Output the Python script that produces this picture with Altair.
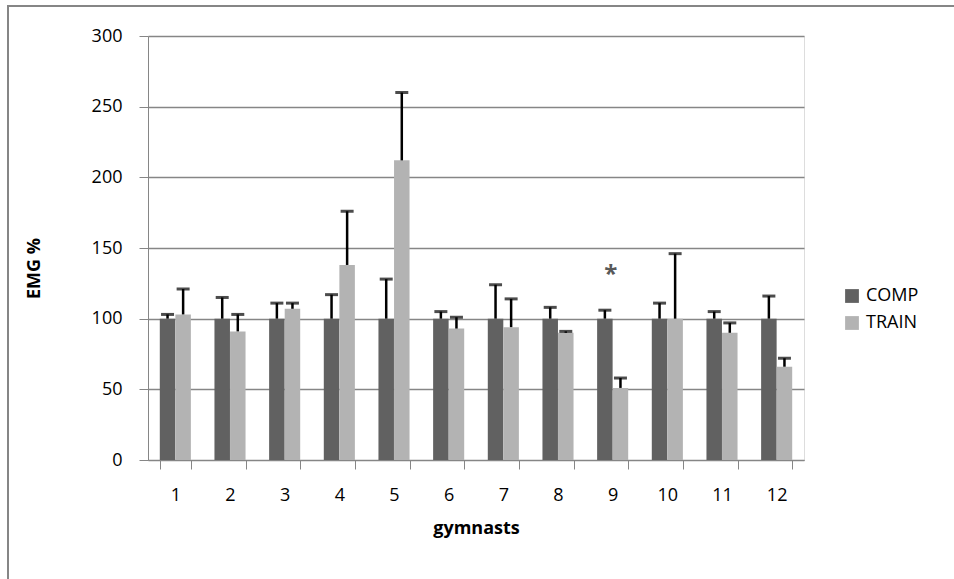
import altair as alt
import pandas as pd

# EMG activity per gymnast, competition vs training (mean and + SD)
gymnasts = [str(i) for i in range(1, 13)]
comp_mean = [100, 100, 100, 100, 100, 100, 100, 100, 100, 100, 100, 100]
comp_sd = [3, 15, 11, 17, 28, 5, 24, 8, 6, 11, 5, 16]
train_mean = [103, 91, 107, 138, 212, 93, 94, 90, 51, 100, 90, 66]
train_sd = [18, 12, 4, 38, 48, 8, 20, 1, 7, 46, 7, 6]
series = ["COMP", "TRAIN"]
colors = ["#616161", "#b3b3b3"]
significant = ["9"]

rows = []
for i, g in enumerate(gymnasts):
    rows.append({"g": g, "series": "COMP", "mean": comp_mean[i], "sd": comp_sd[i]})
    rows.append({"g": g, "series": "TRAIN", "mean": train_mean[i], "sd": train_sd[i]})
df = pd.DataFrame(rows)
df["upper"] = df["mean"] + df["sd"]

FONT = "Open Sans"
GRID = "#868686"

x_enc = alt.X(
    "g:O",
    sort=gymnasts,
    title="gymnasts",
    scale=alt.Scale(paddingInner=0.43, paddingOuter=0.215),
    axis=alt.Axis(
        labelAngle=0,
        tickBand="extent",
        tickSize=9,
        tickColor=GRID,
        domainColor=GRID,
        labelPadding=17,
        labelFontSize=18,
        labelColor="#000000",
        titleFontSize=18,
        titleFontWeight="bold",
        titlePadding=15,
        grid=False,
    ),
)
xoff = alt.XOffset("series:N", sort=series, scale=alt.Scale(paddingInner=0, paddingOuter=0))
y_scale = alt.Scale(domain=[0, 300])

base = alt.Chart(df)

bars = base.mark_bar(size=15.5).encode(
    x=x_enc,
    xOffset=xoff,
    y=alt.Y(
        "mean:Q",
        scale=y_scale,
        title="EMG %",
        axis=alt.Axis(
            values=[0, 50, 100, 150, 200, 250, 300],
            tickSize=9,
            tickColor=GRID,
            domainColor=GRID,
            gridColor=GRID,
            gridWidth=1.3,
            labelPadding=17,
            labelFontSize=18,
            labelColor="#000000",
            titleFontSize=18,
            titleFontWeight="bold",
            titlePadding=48,
            titleY=232,
        ),
    ),
    color=alt.Color(
        "series:N",
        sort=series,
        scale=alt.Scale(domain=series, range=colors),
        legend=alt.Legend(
            title=None,
            orient="none",
            legendX=695,
            legendY=251,
            symbolType="square",
            symbolSize=190,
            symbolStrokeWidth=0,
            labelFontSize=18,
            labelColor="#000000",
            rowPadding=9,
            labelOffset=5,
        ),
    ),
)

stems = base.mark_rule(color="#000000", strokeWidth=2.5).encode(
    x=alt.X("g:O", sort=gymnasts),
    xOffset=xoff,
    y=alt.Y("mean:Q", scale=y_scale),
    y2="upper:Q",
)

caps = base.mark_tick(color="#000000", thickness=3, size=13, orient="horizontal").encode(
    x=alt.X("g:O", sort=gymnasts),
    xOffset=xoff,
    y=alt.Y("upper:Q", scale=y_scale),
)

star = alt.Chart(pd.DataFrame({"g": significant, "y": [131]})).mark_text(
    text="*", fontSize=24, fontWeight="bold", color="#595959", dx=-2
).encode(x=alt.X("g:O", sort=gymnasts), y=alt.Y("y:Q", scale=y_scale))

# chart frame (left and top edges)
frame_left = alt.Chart(pd.DataFrame({"k": [0]})).mark_rule(color=GRID, strokeWidth=2).encode(
    x=alt.value(-140), y=alt.value(-30), y2=alt.value(560)
)
frame_top = alt.Chart(pd.DataFrame({"k": [0]})).mark_rule(color=GRID, strokeWidth=2).encode(
    x=alt.value(-141), x2=alt.value(820), y=alt.value(-30)
)

chart = (
    alt.layer(bars, stems, caps, star, frame_left, frame_top)
    .properties(
        width=656,
        height=424,
        autosize=alt.AutoSizeParams(type="none"),
        padding={"left": 148, "top": 36, "right": 150, "bottom": 119},
        background="#ffffff",
    )
    .configure_view(stroke=None)
    .configure(font=FONT)
)

chart.save("out.html", embed_options={"renderer": "svg", "actions": False})
